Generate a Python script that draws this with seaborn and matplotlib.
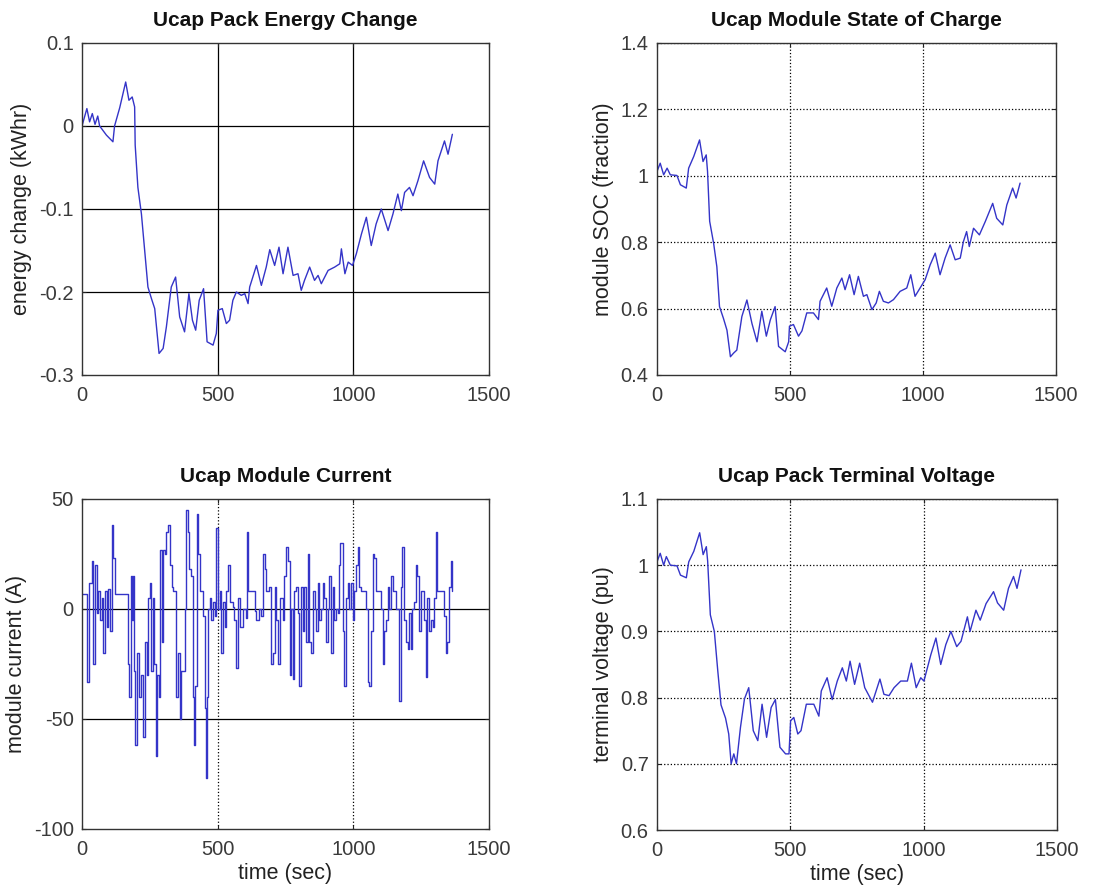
import numpy as np
import pandas as pd
import matplotlib
matplotlib.use("Agg")
import matplotlib.pyplot as plt
import seaborn as sns

# ---------------- data ----------------
energy_t = [0, 18, 28, 38, 48, 58, 65, 90, 114, 120, 139, 161, 173, 185, 194, 196, 206, 219, 231, 243,
            256, 268, 284, 299, 311, 329, 345, 360, 378, 394, 407, 419, 432, 448, 461, 483, 495, 501,
            517, 532, 544, 556, 569, 587, 600, 612, 618, 643, 661, 679, 692, 710, 726, 741, 759, 778,
            796, 808, 820, 839, 857, 870, 882, 907, 931, 950, 956, 969, 981, 997, 1011, 1030, 1048,
            1066, 1084, 1103, 1128, 1146, 1164, 1177, 1189, 1207, 1220, 1238, 1259, 1281, 1300, 1312,
            1336, 1349, 1365]
energy_kwh = [0.0, 0.021, 0.005, 0.015, 0.002, 0.012, 0.0, -0.011, -0.019, 0.0, 0.022, 0.053, 0.031,
              0.035, 0.023, -0.023, -0.074, -0.106, -0.15, -0.194, -0.208, -0.22, -0.274, -0.268,
              -0.242, -0.194, -0.182, -0.23, -0.248, -0.202, -0.234, -0.246, -0.21, -0.196, -0.26,
              -0.264, -0.25, -0.222, -0.22, -0.238, -0.234, -0.21, -0.2, -0.204, -0.202, -0.214,
              -0.194, -0.168, -0.192, -0.17, -0.149, -0.168, -0.146, -0.178, -0.146, -0.18, -0.178,
              -0.198, -0.186, -0.17, -0.186, -0.18, -0.19, -0.174, -0.17, -0.166, -0.148, -0.178,
              -0.164, -0.168, -0.154, -0.13, -0.11, -0.144, -0.118, -0.1, -0.126, -0.106, -0.082,
              -0.102, -0.08, -0.074, -0.084, -0.066, -0.042, -0.062, -0.07, -0.042, -0.018, -0.034,
              -0.01]

soc_t = [0, 12, 25, 38, 50, 75, 88, 110, 119, 138, 160, 173, 185, 190, 198, 213, 225, 235, 250, 263,
         276, 288, 300, 319, 338, 357, 376, 394, 411, 426, 444, 457, 482, 495, 498, 513, 532, 545,
         563, 588, 607, 613, 638, 657, 676, 695, 707, 724, 741, 757, 776, 789, 808, 824, 836, 851,
         870, 889, 914, 939, 954, 970, 989, 1008, 1027, 1046, 1064, 1083, 1102, 1121, 1140, 1152,
         1164, 1174, 1190, 1212, 1234, 1262, 1277, 1300, 1315, 1337, 1350, 1365]
soc_frac = [1.013, 1.038, 1.003, 1.023, 1.003, 1.001, 0.973, 0.963, 1.023, 1.058, 1.108, 1.043,
            1.063, 1.013, 0.863, 0.796, 0.726, 0.606, 0.57, 0.535, 0.455, 0.466, 0.475, 0.576,
            0.626, 0.555, 0.5, 0.592, 0.517, 0.566, 0.606, 0.486, 0.47, 0.5, 0.547, 0.552, 0.517,
            0.533, 0.587, 0.587, 0.567, 0.622, 0.662, 0.607, 0.662, 0.692, 0.657, 0.702, 0.642,
            0.697, 0.637, 0.642, 0.597, 0.617, 0.652, 0.622, 0.617, 0.627, 0.652, 0.662, 0.702,
            0.637, 0.662, 0.687, 0.732, 0.767, 0.702, 0.752, 0.792, 0.747, 0.752, 0.802, 0.832,
            0.787, 0.842, 0.822, 0.862, 0.917, 0.872, 0.852, 0.912, 0.963, 0.933, 0.978]

current_t = [0, 17, 20, 27, 36, 42, 48, 54, 60, 66, 72, 78, 85, 91, 97, 103, 109, 115, 121, 125,
             168, 173, 179, 183, 189, 192, 197, 203, 211, 216, 225, 232, 238, 244, 250, 256, 260,
             265, 272, 278, 284, 287, 293, 299, 305, 311, 317, 324, 330, 336, 348, 354, 360, 366,
             373, 379, 385, 391, 395, 403, 409, 412, 415, 422, 428, 434, 446, 452, 456, 462, 464,
             471, 477, 483, 489, 495, 501, 507, 513, 520, 526, 532, 538, 544, 556, 562, 569, 575,
             581, 593, 603, 608, 612, 636, 642, 654, 661, 667, 673, 679, 691, 697, 703, 710, 716,
             722, 728, 740, 746, 752, 759, 765, 771, 777, 783, 789, 795, 801, 808, 814, 820, 826,
             832, 838, 844, 850, 857, 863, 869, 875, 881, 887, 893, 900, 906, 912, 918, 924, 930,
             936, 942, 949, 951, 961, 967, 973, 979, 985, 991, 998, 1004, 1010, 1016, 1022, 1028,
             1047, 1053, 1059, 1065, 1071, 1077, 1083, 1102, 1108, 1114, 1120, 1126, 1132, 1138,
             1145, 1157, 1169, 1175, 1181, 1188, 1194, 1200, 1206, 1212, 1218, 1224, 1230, 1236,
             1243, 1249, 1261, 1267, 1273, 1279, 1285, 1292, 1298, 1304, 1310, 1334, 1341, 1347,
             1353, 1359, 1365]
current_a = [7, -15, -33, 12, 22, -25, 20, -2, 8, -5, 5, -20, 8, -8, 9, -10, 38, 23, 7, 7,
             -25, -40, 15, -5, 15, -28, -62, -20, -40, -30, -58, -15, -30, 5, 12, -28, 5,
             -25, -67, -30, -40, 27, -15, 27, 25, 35, 38, 20, 10, 8, -40, -20, -50, -28,
             -28, 0, 45, 35, 18, 15, -40, -62, -35, 43, 25, 8, -3, -45, -77, -40, 0,
             5, -5, 3, -3, 37, 0, 8, -20, 3, -8, 8, 20, 3, 1, -5, -27, 5,
             -8, 0, -4, 35, 8, -1, -5, 0, -3, 25, 18, 8, 10, -25, -20, 10, -5,
             -25, 5, -5, 15, 28, 22, -30, 0, -32, 8, 10, -2, -35, 10, -10, 10, -15,
             25, -15, -20, 8, 0, -10, 12, -5, 0, 12, 5, -15, 0, 15, -20, 10, -5,
             0, -2, 20, 30, -10, -35, 5, 12, 0, 12, -5, 8, 20, 28, 10, 8,
             0, -33, -35, -10, 25, 23, 8, 0, -25, -10, -5, 10, 0, 15,
             8, 0, -42, 10, 28, -5, -15, -18, -2, -18, 0, 3, 20, 15,
             -10, 8, -5, -31, 5, -10, -5, -8, 5, 35, 8, -3, -20, -15,
             10, 22, 8]

volt_t = [0, 12, 25, 35, 50, 75, 88, 110, 119, 138, 160, 173, 185, 190, 200, 215, 228, 240, 257,
          269, 278, 288, 298, 313, 328, 344, 361, 378, 394, 411, 428, 444, 461, 482, 495, 501, 513,
          528, 540, 560, 588, 607, 616, 638, 657, 676, 695, 710, 724, 741, 760, 779, 808, 836, 851,
          870, 889, 914, 939, 954, 972, 989, 1001, 1027, 1046, 1064, 1083, 1102, 1124, 1140, 1164,
          1174, 1196, 1212, 1234, 1262, 1277, 1300, 1318, 1337, 1350, 1365]
volt_pu = [1.005, 1.018, 1.0, 1.013, 1.0, 0.999, 0.985, 0.981, 1.005, 1.021, 1.049, 1.016, 1.028,
           1.006, 0.925, 0.9, 0.84, 0.789, 0.769, 0.745, 0.7, 0.715, 0.7, 0.755, 0.798, 0.815,
           0.75, 0.735, 0.79, 0.74, 0.785, 0.797, 0.725, 0.715, 0.715, 0.765, 0.77, 0.745, 0.75,
           0.79, 0.79, 0.772, 0.81, 0.83, 0.797, 0.825, 0.845, 0.825, 0.855, 0.82, 0.852, 0.815,
           0.793, 0.828, 0.805, 0.803, 0.815, 0.825, 0.825, 0.852, 0.815, 0.83, 0.825, 0.865,
           0.89, 0.85, 0.88, 0.9, 0.877, 0.885, 0.922, 0.9, 0.932, 0.917, 0.942, 0.96, 0.943,
           0.932, 0.965, 0.983, 0.965, 0.993]

titles = ["Ucap Pack Energy Change", "Ucap Module State of Charge",
          "Ucap Module Current", "Ucap Pack Terminal Voltage"]
ylabels = ["energy change (kWhr)", "module SOC (fraction)",
           "module current (A)", "terminal voltage (pu)"]
xlabel = "time (sec)"

# ---------------- style ----------------
sns.set_style("white")
plt.rcParams['font.family'] = ['Liberation Sans', 'DejaVu Sans']
LINE = "#3434c8"
TXT = "#3a3a3a"

fig = plt.figure(figsize=(11.09, 8.91), dpi=100)
W, H = 1109, 891

def make_ax(l, t, r, b):
    return fig.add_axes([l / W, 1 - b / H, (r - l) / W, (b - t) / H])

ax_e = make_ax(82, 43, 489, 375)
ax_s = make_ax(657, 43, 1056, 375)
ax_c = make_ax(82, 499, 489, 829)
ax_v = make_ax(657, 499, 1057, 830)

sns.lineplot(x=energy_t, y=energy_kwh, ax=ax_e, color=LINE, lw=1.0, estimator=None, sort=False)
sns.lineplot(x=soc_t, y=soc_frac, ax=ax_s, color=LINE, lw=1.0, estimator=None, sort=False)
sns.lineplot(x=current_t, y=current_a, ax=ax_c, color=LINE, lw=1.0, estimator=None, sort=False,
             drawstyle="steps-post")
sns.lineplot(x=volt_t, y=volt_pu, ax=ax_v, color=LINE, lw=1.0, estimator=None, sort=False)

cfg = [
    (ax_e, (-0.3, 0.1), [-0.3, -0.2, -0.1, 0, 0.1], ["-0.3", "-0.2", "-0.1", "0", "0.1"], '-', '-'),
    (ax_s, (0.4, 1.4), [0.4, 0.6, 0.8, 1.0, 1.2, 1.4], ["0.4", "0.6", "0.8", "1", "1.2", "1.4"], ':', ':'),
    (ax_c, (-100, 50), [-100, -50, 0, 50], ["-100", "-50", "0", "50"], '-', ':'),
    (ax_v, (0.6, 1.1), [0.6, 0.7, 0.8, 0.9, 1.0, 1.1], ["0.6", "0.7", "0.8", "0.9", "1", "1.1"], ':', ':'),
]

for i, (ax, ylim, yt, ytl, hls, vls) in enumerate(cfg):
    ax.set_xlim(0, 1500)
    ax.set_ylim(*ylim)
    ax.set_xticks([0, 500, 1000, 1500])
    ax.set_xticklabels(["0", "500", "1000", "1500"])
    ax.set_yticks(yt)
    ax.set_yticklabels(ytl)
    ax.tick_params(direction="in", length=3, width=0.8, labelsize=14.5, labelcolor=TXT,
                   pad=6, top=True, right=True, bottom=True, left=True, color="#222222")
    ax.tick_params(axis="x", pad=8)
    ax.grid(False)
    for v in [500, 1000]:
        ax.axvline(v, color="black", lw=0.9, ls=vls, zorder=0.5)
    for h in yt[1:-1]:
        ax.axhline(h, color="black", lw=0.9, ls=hls, zorder=0.5)
    if hls == ':':
        ax.axhline(yt[-1], color="black", lw=0.9, ls=':', zorder=0.5)
    for s in ax.spines.values():
        s.set_color("#333333")
        s.set_linewidth(1.0)
        s.set_visible(True)
    ax.set_title(titles[i], fontsize=15, fontweight="bold", color="#111111", pad=12)
    ax.set_ylabel(ylabels[i], fontsize=15.5, color="#222222", labelpad=5)
    if i >= 2:
        ax.set_xlabel(xlabel, fontsize=15.5, color="#222222", labelpad=3)
    else:
        ax.set_xlabel("")

fig.savefig("out.png", dpi=100, facecolor="white")
